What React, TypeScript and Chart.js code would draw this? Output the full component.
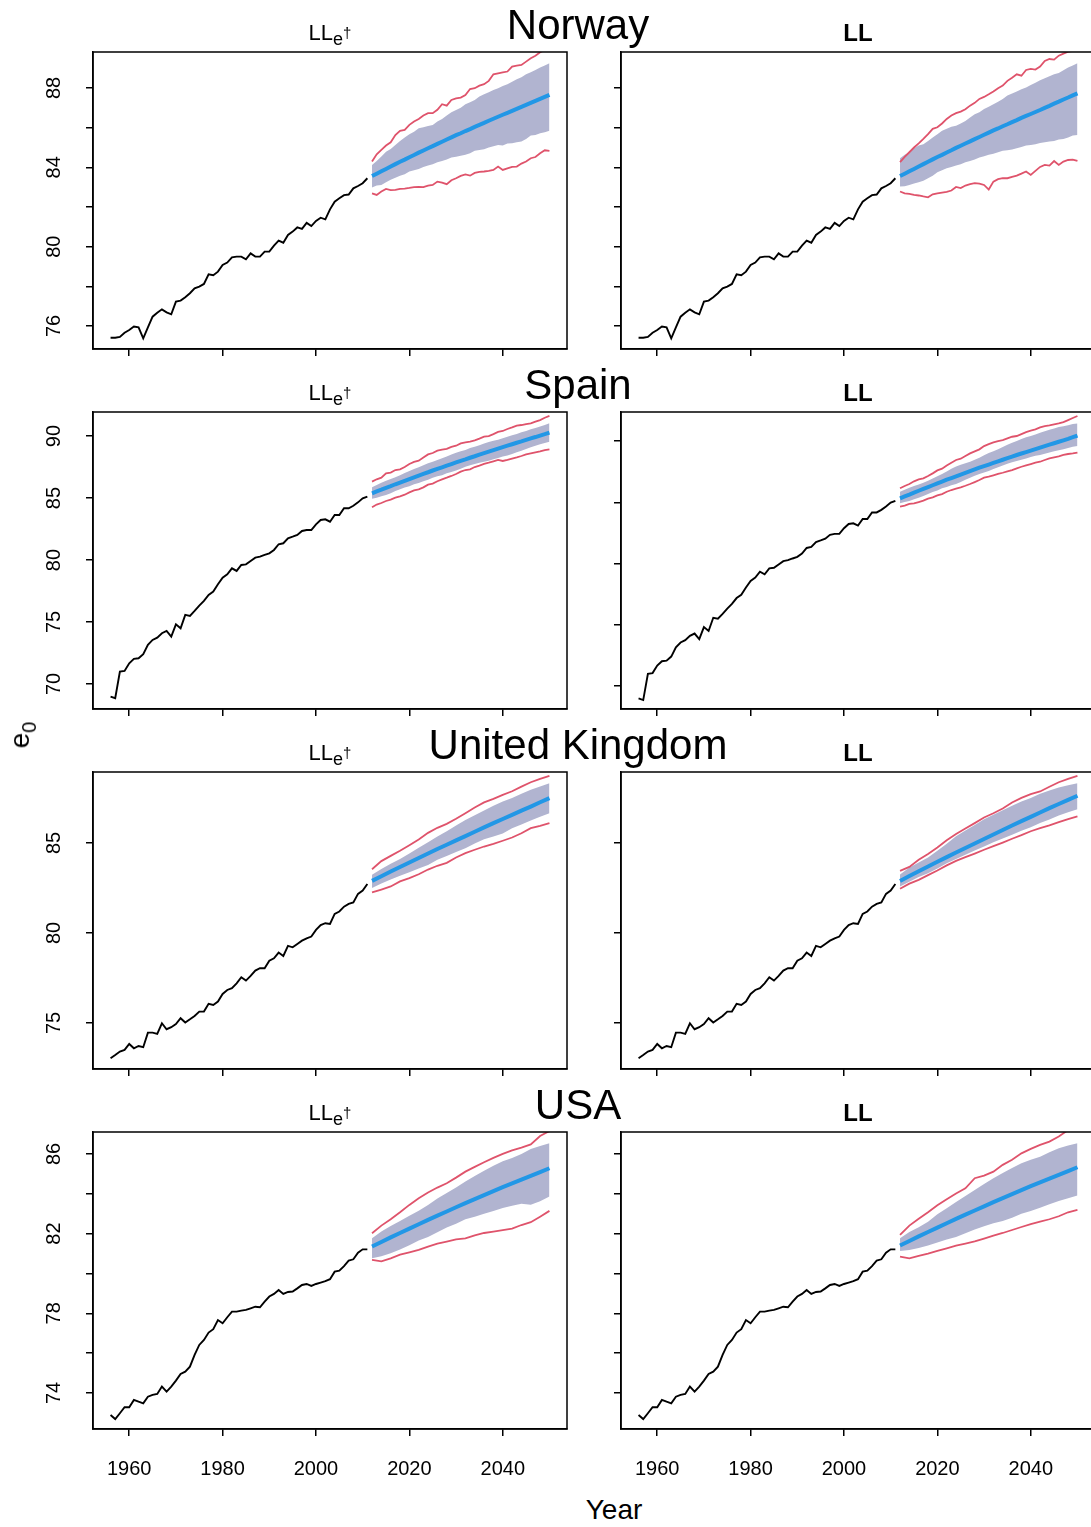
import React, { useEffect, useRef } from "react";
import { Chart, registerables } from "chart.js";

Chart.register(...registerables);

const FONT = '"Liberation Sans", Arial, Helvetica, sans-serif';
Chart.defaults.font.family = FONT;

const RED = "#DF536B";
const BLUE = "#2297E6";
const BAND = "rgb(177,180,208)";

// ---------- axes ----------
const xTickValues = [1960, 1980, 2000, 2020, 2040];
const countries = ["Norway", "Spain", "United Kingdom", "USA"];

const obsYears = [
  1956, 1957, 1958, 1959, 1960, 1961, 1962, 1963, 1964, 1965,
  1966, 1967, 1968, 1969, 1970, 1971, 1972, 1973, 1974, 1975,
  1976, 1977, 1978, 1979, 1980, 1981, 1982, 1983, 1984, 1985,
  1986, 1987, 1988, 1989, 1990, 1991, 1992, 1993, 1994, 1995,
  1996, 1997, 1998, 1999, 2000, 2001, 2002, 2003, 2004, 2005,
  2006, 2007, 2008, 2009, 2010, 2011,
];
const fcYears = [
  2012, 2013, 2014, 2015, 2016, 2017, 2018, 2019, 2020, 2021,
  2022, 2023, 2024, 2025, 2026, 2027, 2028, 2029, 2030, 2031,
  2032, 2033, 2034, 2035, 2036, 2037, 2038, 2039, 2040, 2041,
  2042, 2043, 2044, 2045, 2046, 2047, 2048, 2049, 2050,
];
const fcYears2 = [
  2012, 2014, 2016, 2018, 2020, 2022, 2024, 2026, 2028, 2030,
  2032, 2034, 2036, 2038, 2040, 2042, 2044, 2046, 2048, 2050,
];

// ---------- Norway ----------
const obsNorway = [
  75.41, 75.41, 75.45, 75.66, 75.8, 75.97, 75.93, 75.38, 75.93, 76.47,
  76.67, 76.84, 76.69, 76.59, 77.23, 77.28, 77.45, 77.65, 77.9, 77.99,
  78.12, 78.61, 78.56, 78.74, 79.08, 79.2, 79.46, 79.5, 79.5, 79.36,
  79.66, 79.5, 79.5, 79.75, 79.75, 80.05, 80.3, 80.2, 80.59, 80.76,
  80.97, 80.9, 81.2, 81.04, 81.3, 81.46, 81.38, 81.88, 82.27, 82.44,
  82.6, 82.63, 82.94, 83.06, 83.2, 83.45,
];
const medNorL = [
  83.56, 83.68, 83.8, 83.92, 84.04, 84.16, 84.28, 84.39, 84.51, 84.62,
  84.74, 84.85, 84.96, 85.07, 85.18, 85.29, 85.4, 85.51, 85.62, 85.72,
  85.83, 85.93, 86.04, 86.14, 86.24, 86.35, 86.45, 86.55, 86.65, 86.75,
  86.85, 86.95, 87.05, 87.15, 87.25, 87.35, 87.45, 87.55, 87.65,
];
const bandHiNorL = [
  84.12, 84.32, 84.54, 84.79, 84.93, 85.13, 85.33, 85.5, 85.67, 85.8,
  85.97, 86.02, 86.09, 86.14, 86.31, 86.44, 86.61, 86.78, 86.89, 87.01,
  87.18, 87.28, 87.4, 87.57, 87.68, 87.78, 87.9, 87.99, 88.1, 88.19,
  88.32, 88.44, 88.54, 88.69, 88.79, 88.91, 89.03, 89.13, 89.25,
];
const bandLoNorL = [
  82.98, 83.08, 83.11, 83.25, 83.37, 83.48, 83.58, 83.65, 83.79, 83.85,
  83.92, 84.02, 84.09, 84.16, 84.26, 84.32, 84.39, 84.49, 84.53, 84.59,
  84.63, 84.71, 84.83, 84.88, 84.91, 85.0, 85.06, 85.13, 85.1, 85.2,
  85.21, 85.26, 85.3, 85.43, 85.6, 85.63, 85.72, 85.77, 85.84,
];
const redHiNorL = [
  84.29, 84.66, 84.88, 85.1, 85.26, 85.63, 85.84, 85.89, 86.14, 86.31,
  86.44, 86.61, 86.73, 86.73, 86.9, 87.18, 87.11, 87.4, 87.48, 87.52,
  87.65, 87.95, 87.99, 88.12, 88.19, 88.36, 88.69, 88.74, 88.79, 88.83,
  89.08, 89.13, 89.16, 89.33, 89.5, 89.63, 89.8, 89.92, 90.04,
];
const redLoNorL = [
  82.69, 82.61, 82.78, 82.91, 82.85, 82.86, 82.91, 82.93, 82.96, 83.0,
  83.01, 83.0, 83.08, 83.11, 83.28, 83.23, 83.15, 83.35, 83.45, 83.57,
  83.64, 83.58, 83.72, 83.77, 83.79, 83.82, 83.87, 84.04, 83.87, 83.95,
  84.02, 84.04, 84.19, 84.29, 84.46, 84.52, 84.71, 84.86, 84.83,
];
const medNorR = [
  83.56, 83.68, 83.8, 83.92, 84.04, 84.16, 84.28, 84.4, 84.52, 84.63,
  84.75, 84.86, 84.98, 85.09, 85.2, 85.31, 85.42, 85.53, 85.64, 85.75,
  85.86, 85.96, 86.07, 86.17, 86.28, 86.38, 86.49, 86.59, 86.69, 86.79,
  86.89, 87.0, 87.1, 87.21, 87.31, 87.42, 87.52, 87.63, 87.73,
];
const bandHiNorR = [
  84.46, 84.63, 84.76, 84.96, 85.1, 85.16, 85.33, 85.5, 85.67, 85.84,
  85.94, 86.04, 86.1, 86.21, 86.34, 86.51, 86.68, 86.78, 86.94, 87.06,
  87.18, 87.31, 87.45, 87.62, 87.72, 87.82, 87.94, 88.02, 88.15, 88.26,
  88.39, 88.49, 88.59, 88.69, 88.76, 88.89, 89.03, 89.13, 89.25,
];
const bandLoNorR = [
  83.03, 83.05, 83.11, 83.18, 83.25, 83.32, 83.45, 83.58, 83.75, 83.85,
  83.95, 84.02, 84.09, 84.16, 84.26, 84.32, 84.39, 84.49, 84.56, 84.63,
  84.69, 84.76, 84.83, 84.86, 84.9, 84.96, 85.03, 85.1, 85.13, 85.16,
  85.23, 85.26, 85.3, 85.33, 85.4, 85.43, 85.5, 85.6, 85.63,
];
const redHiNorR = [
  84.26, 84.53, 84.76, 85.0, 85.21, 85.43, 85.67, 85.94, 86.02, 86.21,
  86.44, 86.61, 86.73, 86.81, 86.93, 87.11, 87.25, 87.45, 87.55, 87.68,
  87.82, 87.99, 88.12, 88.36, 88.52, 88.69, 88.62, 88.91, 88.96, 88.93,
  89.08, 89.36, 89.46, 89.43, 89.63, 89.73, 89.83, 89.87, 89.9,
];
const redLoNorR = [
  82.78, 82.69, 82.66, 82.61, 82.58, 82.53, 82.49, 82.64, 82.69, 82.73,
  82.76, 82.83, 83.01, 82.95, 83.08, 83.15, 83.2, 83.18, 83.11, 82.88,
  83.28, 83.4, 83.45, 83.45, 83.52, 83.58, 83.68, 83.79, 83.62, 83.82,
  84.02, 84.12, 84.09, 84.32, 84.12, 84.29, 84.37, 84.39, 84.32,
];

// ---------- Spain ----------
const obsSpain = [
  68.98, 68.85, 71.0, 71.05, 71.67, 72.02, 72.07, 72.4, 73.15, 73.55,
  73.74, 74.09, 74.28, 73.82, 74.81, 74.49, 75.57, 75.49, 75.89, 76.32,
  76.7, 77.18, 77.45, 78.04, 78.58, 78.85, 79.33, 79.12, 79.6, 79.65,
  79.92, 80.19, 80.27, 80.41, 80.54, 80.81, 81.27, 81.35, 81.75, 81.88,
  82.02, 82.34, 82.42, 82.42, 82.88, 83.23, 83.28, 83.09, 83.63, 83.63,
  84.17, 84.17, 84.38, 84.65, 84.97, 85.11,
];
const medSpaL = [
  85.38, 85.53, 85.67, 85.82, 85.96, 86.11, 86.25, 86.39, 86.53, 86.67,
  86.81, 86.95, 87.08, 87.22, 87.35, 87.48, 87.61, 87.74, 87.87, 88.0,
  88.12, 88.25, 88.37, 88.5, 88.62, 88.74, 88.86, 88.98, 89.1, 89.22,
  89.34, 89.46, 89.57, 89.69, 89.81, 89.92, 90.04, 90.15, 90.27,
];
const bandHiSpaL = [
  85.86, 86.05, 86.24, 86.4, 86.54, 86.67, 86.83, 87.02, 87.18, 87.34,
  87.48, 87.64, 87.8, 87.93, 88.07, 88.2, 88.36, 88.52, 88.66, 88.77,
  88.87, 89.04, 89.14, 89.25, 89.39, 89.52, 89.63, 89.71, 89.82, 89.95,
  90.06, 90.16, 90.3, 90.41, 90.54, 90.65, 90.78, 90.89, 91.03,
];
const bandLoSpaL = [
  84.95, 85.03, 85.14, 85.25, 85.38, 85.57, 85.7, 85.84, 85.94, 86.11,
  86.21, 86.35, 86.48, 86.64, 86.75, 86.83, 86.99, 87.1, 87.23, 87.37,
  87.53, 87.64, 87.75, 87.85, 87.93, 88.01, 88.12, 88.23, 88.34, 88.44,
  88.55, 88.69, 88.82, 88.96, 89.09, 89.22, 89.33, 89.44, 89.55,
];
const redHiSpaL = [
  86.32, 86.51, 86.64, 86.99, 87.05, 87.26, 87.32, 87.5, 87.75, 87.91,
  88.01, 88.26, 88.52, 88.63, 88.82, 88.9, 88.96, 89.12, 89.22, 89.41,
  89.49, 89.55, 89.65, 89.79, 89.95, 90.0, 90.16, 90.33, 90.41, 90.57,
  90.7, 90.84, 90.89, 90.97, 91.02, 91.16, 91.29, 91.48, 91.62,
];
const redLoSpaL = [
  84.25, 84.47, 84.6, 84.76, 84.87, 85.03, 85.14, 85.27, 85.46, 85.62,
  85.7, 85.86, 86.08, 86.16, 86.35, 86.51, 86.64, 86.78, 86.94, 87.13,
  87.26, 87.32, 87.5, 87.61, 87.75, 87.85, 87.96, 88.07, 87.99, 88.07,
  88.18, 88.28, 88.39, 88.52, 88.61, 88.69, 88.77, 88.87, 88.93,
];
const medSpaR = [
  85.32, 85.48, 85.63, 85.79, 85.94, 86.09, 86.24, 86.39, 86.54, 86.69,
  86.84, 86.98, 87.12, 87.26, 87.4, 87.54, 87.68, 87.82, 87.95, 88.08,
  88.21, 88.34, 88.47, 88.6, 88.73, 88.86, 88.98, 89.1, 89.22, 89.34,
  89.46, 89.58, 89.7, 89.82, 89.94, 90.06, 90.18, 90.31, 90.45,
];
const bandHiSpaR = [
  85.86, 86.03, 86.19, 86.33, 86.46, 86.6, 86.76, 86.95, 87.12, 87.31,
  87.52, 87.74, 87.93, 88.07, 88.18, 88.31, 88.48, 88.64, 88.83, 89.02,
  89.16, 89.32, 89.51, 89.7, 89.86, 90.0, 90.16, 90.3, 90.41, 90.54,
  90.68, 90.79, 90.92, 91.03, 91.14, 91.2, 91.28, 91.39, 91.44,
];
const bandLoSpaR = [
  84.91, 85.02, 85.1, 85.24, 85.37, 85.51, 85.67, 85.84, 85.97, 86.14,
  86.25, 86.38, 86.49, 86.65, 86.84, 87.01, 87.17, 87.31, 87.44, 87.55,
  87.71, 87.85, 88.01, 88.15, 88.26, 88.37, 88.48, 88.58, 88.69, 88.8,
  88.86, 88.97, 89.07, 89.16, 89.24, 89.32, 89.43, 89.54, 89.59,
];
const redHiSpaR = [
  86.14, 86.33, 86.49, 86.71, 86.87, 86.95, 87.14, 87.36, 87.6, 87.74,
  88.01, 88.23, 88.45, 88.56, 88.78, 88.99, 89.16, 89.32, 89.59, 89.75,
  89.89, 90.0, 90.08, 90.22, 90.35, 90.41, 90.57, 90.73, 90.84, 90.95,
  91.11, 91.22, 91.28, 91.36, 91.44, 91.55, 91.71, 91.88, 92.04,
];
const redLoSpaR = [
  84.64, 84.72, 84.86, 84.91, 85.02, 85.13, 85.29, 85.4, 85.56, 85.67,
  85.86, 86.0, 86.11, 86.22, 86.35, 86.49, 86.65, 86.82, 87.01, 87.09,
  87.2, 87.31, 87.41, 87.52, 87.63, 87.77, 87.9, 88.01, 88.12, 88.23,
  88.31, 88.45, 88.58, 88.67, 88.75, 88.86, 88.94, 88.99, 89.05,
];

// ---------- United Kingdom ----------
const obsUK = [
  73.04, 73.22, 73.41, 73.5, 73.83, 73.59, 73.72, 73.65, 74.46, 74.46,
  74.39, 74.98, 74.65, 74.76, 74.94, 75.26, 75.02, 75.2, 75.39, 75.63,
  75.63, 76.06, 76.0, 76.19, 76.61, 76.83, 76.93, 77.2, 77.54, 77.35,
  77.61, 77.91, 78.04, 78.04, 78.46, 78.59, 78.91, 78.72, 79.28, 79.2,
  79.39, 79.57, 79.7, 79.8, 80.17, 80.44, 80.54, 80.5, 81.06, 81.19,
  81.46, 81.61, 81.69, 82.17, 82.35, 82.72,
];
const medUKL = [82.89, 83.15, 83.41, 83.66, 83.91, 84.16, 84.41, 84.66, 84.9, 85.14, 85.38, 85.62, 85.86, 86.1, 86.33, 86.56, 86.79, 87.02, 87.26, 87.49];
const bandHiUKL = [83.23, 83.55, 83.84, 84.1, 84.41, 84.73, 85.04, 85.36, 85.65, 85.97, 86.28, 86.54, 86.8, 87.06, 87.3, 87.5, 87.73, 87.95, 88.13, 88.32];
const bandLoUKL = [82.49, 82.75, 82.97, 83.17, 83.37, 83.58, 83.78, 84.06, 84.28, 84.5, 84.71, 84.97, 85.21, 85.36, 85.52, 85.82, 86.02, 86.25, 86.45, 86.65];
const redHiUKL = [83.54, 83.99, 84.28, 84.56, 84.87, 85.19, 85.56, 85.84, 86.06, 86.34, 86.65, 86.97, 87.25, 87.45, 87.67, 87.87, 88.13, 88.37, 88.56, 88.73];
const redLoUKL = [82.25, 82.41, 82.58, 82.86, 83.04, 83.26, 83.52, 83.73, 83.89, 84.19, 84.43, 84.62, 84.8, 84.95, 85.12, 85.3, 85.54, 85.82, 85.95, 86.1];
const medUKR = [82.89, 83.16, 83.43, 83.69, 83.95, 84.21, 84.47, 84.72, 84.97, 85.22, 85.47, 85.72, 85.97, 86.21, 86.45, 86.69, 86.93, 87.16, 87.39, 87.62];
const bandHiUKR = [83.25, 83.63, 83.91, 84.19, 84.56, 84.95, 85.37, 85.69, 86.0, 86.32, 86.56, 86.82, 87.06, 87.3, 87.5, 87.73, 87.91, 88.08, 88.21, 88.32];
const bandLoUKR = [82.58, 82.84, 83.1, 83.32, 83.58, 83.87, 84.1, 84.34, 84.58, 84.8, 85.04, 85.25, 85.45, 85.67, 85.87, 86.1, 86.3, 86.52, 86.71, 86.87];
const redHiUKR = [83.45, 83.67, 84.06, 84.39, 84.75, 85.15, 85.49, 85.8, 86.1, 86.41, 86.65, 86.91, 87.25, 87.5, 87.71, 87.86, 88.12, 88.37, 88.56, 88.73];
const redLoUKR = [82.45, 82.74, 82.95, 83.21, 83.47, 83.75, 84.0, 84.21, 84.41, 84.62, 84.82, 85.02, 85.23, 85.43, 85.65, 85.82, 85.97, 86.15, 86.32, 86.47];

// ---------- USA ----------
const obsUSA = [
  72.89, 72.69, 72.98, 73.28, 73.28, 73.65, 73.56, 73.48, 73.81, 73.9,
  73.95, 74.32, 74.07, 74.32, 74.62, 74.95, 75.07, 75.32, 75.91, 76.41,
  76.66, 77.03, 77.2, 77.66, 77.5, 77.8, 78.08, 78.08, 78.13, 78.17,
  78.25, 78.33, 78.3, 78.58, 78.84, 78.97, 79.17, 78.97, 79.07, 79.09,
  79.25, 79.42, 79.47, 79.37, 79.47, 79.54, 79.61, 79.71, 80.09, 80.14,
  80.37, 80.64, 80.71, 81.04, 81.21, 81.21,
];
const medUSAL = [81.35, 81.58, 81.81, 82.03, 82.25, 82.47, 82.69, 82.9, 83.11, 83.32, 83.53, 83.73, 83.93, 84.13, 84.33, 84.52, 84.71, 84.9, 85.09, 85.28];
const bandHiUSAL = [81.76, 82.1, 82.38, 82.63, 82.9, 83.15, 83.44, 83.76, 84.04, 84.32, 84.61, 84.89, 85.16, 85.41, 85.63, 85.8, 86.0, 86.25, 86.4, 86.53];
const bandLoUSAL = [80.76, 80.86, 81.01, 81.2, 81.41, 81.65, 81.83, 82.07, 82.3, 82.5, 82.72, 82.84, 83.0, 83.14, 83.29, 83.4, 83.5, 83.45, 83.62, 83.86];
const redHiUSAL = [82.02, 82.4, 82.72, 83.07, 83.44, 83.77, 84.06, 84.31, 84.53, 84.81, 85.11, 85.35, 85.58, 85.8, 86.0, 86.18, 86.32, 86.48, 86.9, 87.15];
const redLoUSAL = [80.68, 80.61, 80.76, 80.94, 81.06, 81.18, 81.35, 81.5, 81.6, 81.71, 81.76, 81.91, 82.03, 82.1, 82.17, 82.25, 82.43, 82.57, 82.85, 83.14];
const medUSAR = [81.4, 81.63, 81.86, 82.08, 82.3, 82.52, 82.74, 82.95, 83.16, 83.37, 83.58, 83.78, 83.98, 84.18, 84.38, 84.57, 84.76, 84.95, 85.14, 85.33];
const bandHiUSAR = [81.76, 82.08, 82.32, 82.6, 82.97, 83.27, 83.59, 83.89, 84.19, 84.49, 84.78, 85.04, 85.29, 85.53, 85.71, 85.86, 86.08, 86.28, 86.42, 86.53];
const bandLoUSAR = [81.13, 81.18, 81.28, 81.4, 81.55, 81.7, 81.83, 82.02, 82.2, 82.37, 82.52, 82.63, 82.79, 82.99, 83.14, 83.3, 83.47, 83.64, 83.77, 83.91];
const redHiUSAR = [81.93, 82.4, 82.74, 83.07, 83.42, 83.72, 84.01, 84.27, 84.78, 84.91, 85.11, 85.45, 85.71, 86.03, 86.25, 86.45, 86.62, 86.87, 87.2, 87.37];
const redLoUSAR = [80.84, 80.76, 80.88, 80.99, 81.13, 81.26, 81.4, 81.5, 81.61, 81.75, 81.9, 82.03, 82.18, 82.33, 82.48, 82.6, 82.72, 82.87, 83.07, 83.19];

// ---------- y axis ticks ----------
const yTicksNorway = [76, 78, 80, 82, 84, 86, 88];
const yLabelsNorway = [76, 80, 84, 88];
const yTicksSpain = [70, 75, 80, 85, 90];
const yTicksUK = [75, 80, 85];
const yTicksUSA = [74, 76, 78, 80, 82, 84, 86];
const yLabelsUSA = [74, 78, 82, 86];

type Spec = {
  row: number;
  col: number;
  ymin: number;
  ymax: number;
  yTicks: number[];
  yLabels: number[];
  obs: number[];
  fcX: number[];
  med: number[];
  bandHi: number[];
  bandLo: number[];
  redHi: number[];
  redLo: number[];
};

const panels: Spec[] = [
  { row: 0, col: 0, ymin: 74.84, ymax: 89.815, yTicks: yTicksNorway, yLabels: yLabelsNorway, obs: obsNorway, fcX: fcYears, med: medNorL, bandHi: bandHiNorL, bandLo: bandLoNorL, redHi: redHiNorL, redLo: redLoNorL },
  { row: 0, col: 1, ymin: 74.84, ymax: 89.815, yTicks: yTicksNorway, yLabels: [], obs: obsNorway, fcX: fcYears, med: medNorR, bandHi: bandHiNorR, bandLo: bandLoNorR, redHi: redHiNorR, redLo: redLoNorR },
  { row: 1, col: 0, ymin: 67.98, ymax: 91.94, yTicks: yTicksSpain, yLabels: yTicksSpain, obs: obsSpain, fcX: fcYears, med: medSpaL, bandHi: bandHiSpaL, bandLo: bandLoSpaL, redHi: redHiSpaL, redLo: redLoSpaL },
  { row: 1, col: 1, ymin: 68.12, ymax: 92.37, yTicks: yTicksSpain, yLabels: [], obs: obsSpain, fcX: fcYears, med: medSpaR, bandHi: bandHiSpaR, bandLo: bandLoSpaR, redHi: redHiSpaR, redLo: redLoSpaR },
  { row: 2, col: 0, ymin: 72.44, ymax: 88.94, yTicks: yTicksUK, yLabels: yTicksUK, obs: obsUK, fcX: fcYears2, med: medUKL, bandHi: bandHiUKL, bandLo: bandLoUKL, redHi: redHiUKL, redLo: redLoUKL },
  { row: 2, col: 1, ymin: 72.44, ymax: 88.94, yTicks: yTicksUK, yLabels: [], obs: obsUK, fcX: fcYears2, med: medUKR, bandHi: bandHiUKR, bandLo: bandLoUKR, redHi: redHiUKR, redLo: redLoUKR },
  { row: 3, col: 0, ymin: 72.19, ymax: 87.1, yTicks: yTicksUSA, yLabels: yLabelsUSA, obs: obsUSA, fcX: fcYears2, med: medUSAL, bandHi: bandHiUSAL, bandLo: bandLoUSAL, redHi: redHiUSAL, redLo: redLoUSAL },
  { row: 3, col: 1, ymin: 72.19, ymax: 87.1, yTicks: yTicksUSA, yLabels: [], obs: obsUSA, fcX: fcYears2, med: medUSAR, bandHi: bandHiUSAR, bandLo: bandLoUSAR, redHi: redHiUSAR, redLo: redLoUSAR },
];

const boxPlugin = {
  id: "rbox",
  afterDraw(chart: any) {
    const { ctx, chartArea: a } = chart;
    ctx.save();
    ctx.strokeStyle = "#000";
    ctx.lineWidth = 1.5;
    ctx.strokeRect(a.left, a.top, a.right - a.left, a.bottom - a.top);
    ctx.restore();
  },
};

const TOP_PAD = 12;
const X_AXIS_H = 60;
const BOX_H = 297;

function geometry(row: number, col: number) {
  const left = col === 0 ? 0 : 540;
  const width = col === 0 ? 580 : 565;
  const yAxisW = col === 0 ? 93 : 81;
  const padRight = col === 0 ? 13 : 10;
  const top = 52 + 360 * row - TOP_PAD;
  const height = TOP_PAD + BOX_H + X_AXIS_H;
  return { left, width, yAxisW, padRight, top, height };
}

function Panel({ spec }: { spec: Spec }) {
  const ref = useRef<HTMLCanvasElement>(null);
  const g = geometry(spec.row, spec.col);
  useEffect(() => {
    if (!ref.current) return;
    const pts = (xs: number[], ys: number[]) => ys.map((y, i) => ({ x: xs[i], y }));
    const showX = spec.row === 3;
    const common = { pointRadius: 0, tension: 0, clip: 0 };
    const chart = new Chart(ref.current, {
      type: "line",
      data: {
        datasets: [
          { ...common, label: "observed", data: pts(obsYears, spec.obs), borderColor: "#000", borderWidth: 1.9, fill: false, order: 2 },
          { ...common, label: "median", data: pts(spec.fcX, spec.med), borderColor: BLUE, borderWidth: 4, fill: false, order: 1 },
          { ...common, label: "upper", data: pts(spec.fcX, spec.redHi), borderColor: RED, borderWidth: 1.8, fill: false, order: 3 },
          { ...common, label: "lower", data: pts(spec.fcX, spec.redLo), borderColor: RED, borderWidth: 1.8, fill: false, order: 3 },
          { ...common, label: "bandLo", data: pts(spec.fcX, spec.bandLo), borderColor: "rgba(0,0,0,0)", borderWidth: 1, fill: false, order: 5 },
          { ...common, label: "bandHi", data: pts(spec.fcX, spec.bandHi), borderColor: "rgba(0,0,0,0)", borderWidth: 1, backgroundColor: BAND, fill: { target: 4 }, order: 4 },
        ] as any,
      },
      options: {
        animation: false,
        responsive: false,
        maintainAspectRatio: false,
        devicePixelRatio: 1,
        events: [],
        layout: { padding: { top: TOP_PAD, right: g.padRight, left: 0, bottom: 0 } },
        plugins: {
          legend: { display: false },
          tooltip: { enabled: false },
          title: { display: false },
        },
        scales: {
          x: {
            type: "linear",
            position: "bottom",
            min: 1952.24,
            max: 2053.76,
            bounds: "data",
            afterBuildTicks: (s: any) => {
              s.ticks = xTickValues.map((v) => ({ value: v }));
            },
            afterFit: (s: any) => {
              s.height = X_AXIS_H;
              s.paddingLeft = 0;
              s.paddingRight = 0;
            },
            ticks: {
              display: showX,
              autoSkip: false,
              maxRotation: 0,
              minRotation: 0,
              padding: 21,
              color: "#000",
              font: { size: 20, family: FONT },
              callback: (v: any) => String(v),
            },
            grid: { drawOnChartArea: false, drawTicks: true, tickLength: 7, color: "#000", lineWidth: 1.5 },
            border: { display: true, color: "#000", width: 1.5 },
          },
          y: {
            type: "linear",
            position: "left",
            min: spec.ymin,
            max: spec.ymax,
            bounds: "data",
            afterBuildTicks: (s: any) => {
              s.ticks = spec.yTicks.map((v) => ({ value: v }));
            },
            afterFit: (s: any) => {
              s.width = g.yAxisW;
              s.paddingTop = 0;
              s.paddingBottom = 0;
            },
            ticks: {
              display: true,
              autoSkip: false,
              minRotation: 90,
              maxRotation: 90,
              crossAlign: "center",
              padding: 20,
              color: "#000",
              font: { size: 20, family: FONT },
              callback: (v: any) => (spec.yLabels.indexOf(Number(v)) >= 0 ? String(v) : ""),
            },
            grid: { drawOnChartArea: false, drawTicks: true, tickLength: 7, color: "#000", lineWidth: 1.5 },
            border: { display: true, color: "#000", width: 1.5 },
          },
        },
      } as any,
      plugins: [boxPlugin],
    });
    return () => chart.destroy();
  }, []);
  return (
    <canvas
      ref={ref}
      width={g.width}
      height={g.height}
      style={{ position: "absolute", left: g.left, top: g.top, width: g.width, height: g.height }}
    />
  );
}

const textBase: React.CSSProperties = {
  position: "absolute",
  transform: "translate(-50%, -50%)",
  whiteSpace: "nowrap",
  lineHeight: 1,
  fontFamily: FONT,
  color: "#000",
};

export default function App() {
  return (
    <div
      style={{
        position: "absolute",
        left: 0,
        top: 0,
        width: 1091,
        height: 1527,
        overflow: "hidden",
        background: "#fff",
        fontFamily: FONT,
      }}
    >
      {panels.map((p, i) => (
        <Panel key={i} spec={p} />
      ))}
      {countries.map((c, r) => (
        <div key={"c" + r} style={{ ...textBase, left: 578, top: 25 + 360 * r, fontSize: 42 }}>
          {c}
        </div>
      ))}
      {countries.map((c, r) => (
        <div key={"l" + r} style={{ ...textBase, left: 330, top: 33 + 360 * r, fontSize: 22 }}>
          LL
          <span style={{ fontSize: 18, position: "relative", top: 5 }}>
            e<span style={{ fontSize: 15, position: "relative", top: -7 }}>†</span>
          </span>
        </div>
      ))}
      {countries.map((c, r) => (
        <div key={"r" + r} style={{ ...textBase, left: 858, top: 33 + 360 * r, fontSize: 24, fontWeight: "bold" }}>
          LL
        </div>
      ))}
      <div style={{ ...textBase, left: 614, top: 1510, fontSize: 28 }}>Year</div>
      <div style={{ ...textBase, left: 20, top: 735, fontSize: 28, transform: "translate(-50%, -50%) rotate(-90deg)" }}>
        e<span style={{ fontSize: 20, position: "relative", top: 7 }}>0</span>
      </div>
    </div>
  );
}
